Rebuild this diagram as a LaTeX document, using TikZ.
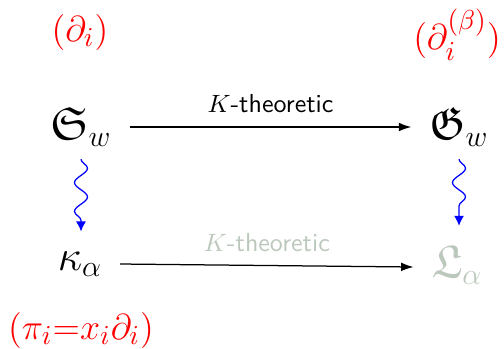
\documentclass[tikz,border=0pt]{standalone}
\usepackage{amsmath,amssymb}
\usepackage{xcolor}
\usepackage{tikz}
\usetikzlibrary{arrows.meta, positioning, calc, decorations.pathmorphing}
\definecolor{kred}{HTML}{FF0000}
\definecolor{kblue}{HTML}{0000FF}
\definecolor{kpale}{HTML}{BCC8BC}
\tikzset{
  poly/.style={font=\fontsize{18.5}{22}\selectfont, inner xsep=7pt, inner ysep=5pt},
  oplabel/.style={font=\fontsize{15.2}{18}\selectfont, text=kred},
  karrow/.style={-{Latex[length=5pt, width=3.5pt]}, line width=0.5pt},
  kname/.style={font=\fontsize{10.4}{12}\selectfont\sffamily, above=2pt, midway},
  wiggle/.style={kblue, line width=0.5pt, decorate,
    decoration={snake, amplitude=2.6pt, segment length=11.5pt, post length=3pt},
    -{Latex[length=4pt, width=4pt]}}
}

\begin{document}
\begin{tikzpicture}[x=0.4pt, y=-0.4pt]

  \useasboundingbox (0,0) rectangle (504,348);

  %% Polynomials
  \node[poly] (sw) at (81,127) {$\mathfrak{S}_w$};
  \node[poly] (gw) at (459,127) {$\mathfrak{G}_w$};
  \node[poly] (ka) at (80,264) {$\kappa_\alpha$};
  \node[poly, text=kpale] (la) at (457,265) {$\mathfrak{L}_\alpha$};

  %% Operators
  \node[oplabel] (dd) at (80,32) {$(\partial_i)$};
  \node[oplabel] (db) at (457,35) {$(\partial_i^{(\beta)})$};
  \node[oplabel] (pi) at (81,330) {$(\pi_i{=}x_i\partial_i)$};

  %% Horizontal arrows
  \draw[karrow] (sw) -- (gw) node[kname] {$K$-theoretic};
  \draw[karrow] (ka.east) -- ($(la.west)+(0,2)$)
    node[kname, text=kpale] {$K$-theoretic};

  %% Vertical snakes
  \draw[wiggle] (sw.south) -- ($(sw.south |- ka.north)+(0,-7)$);
  \draw[wiggle] (gw.south) -- ($(gw.south |- la.north)+(0,-7)$);

\end{tikzpicture}
\end{document}
